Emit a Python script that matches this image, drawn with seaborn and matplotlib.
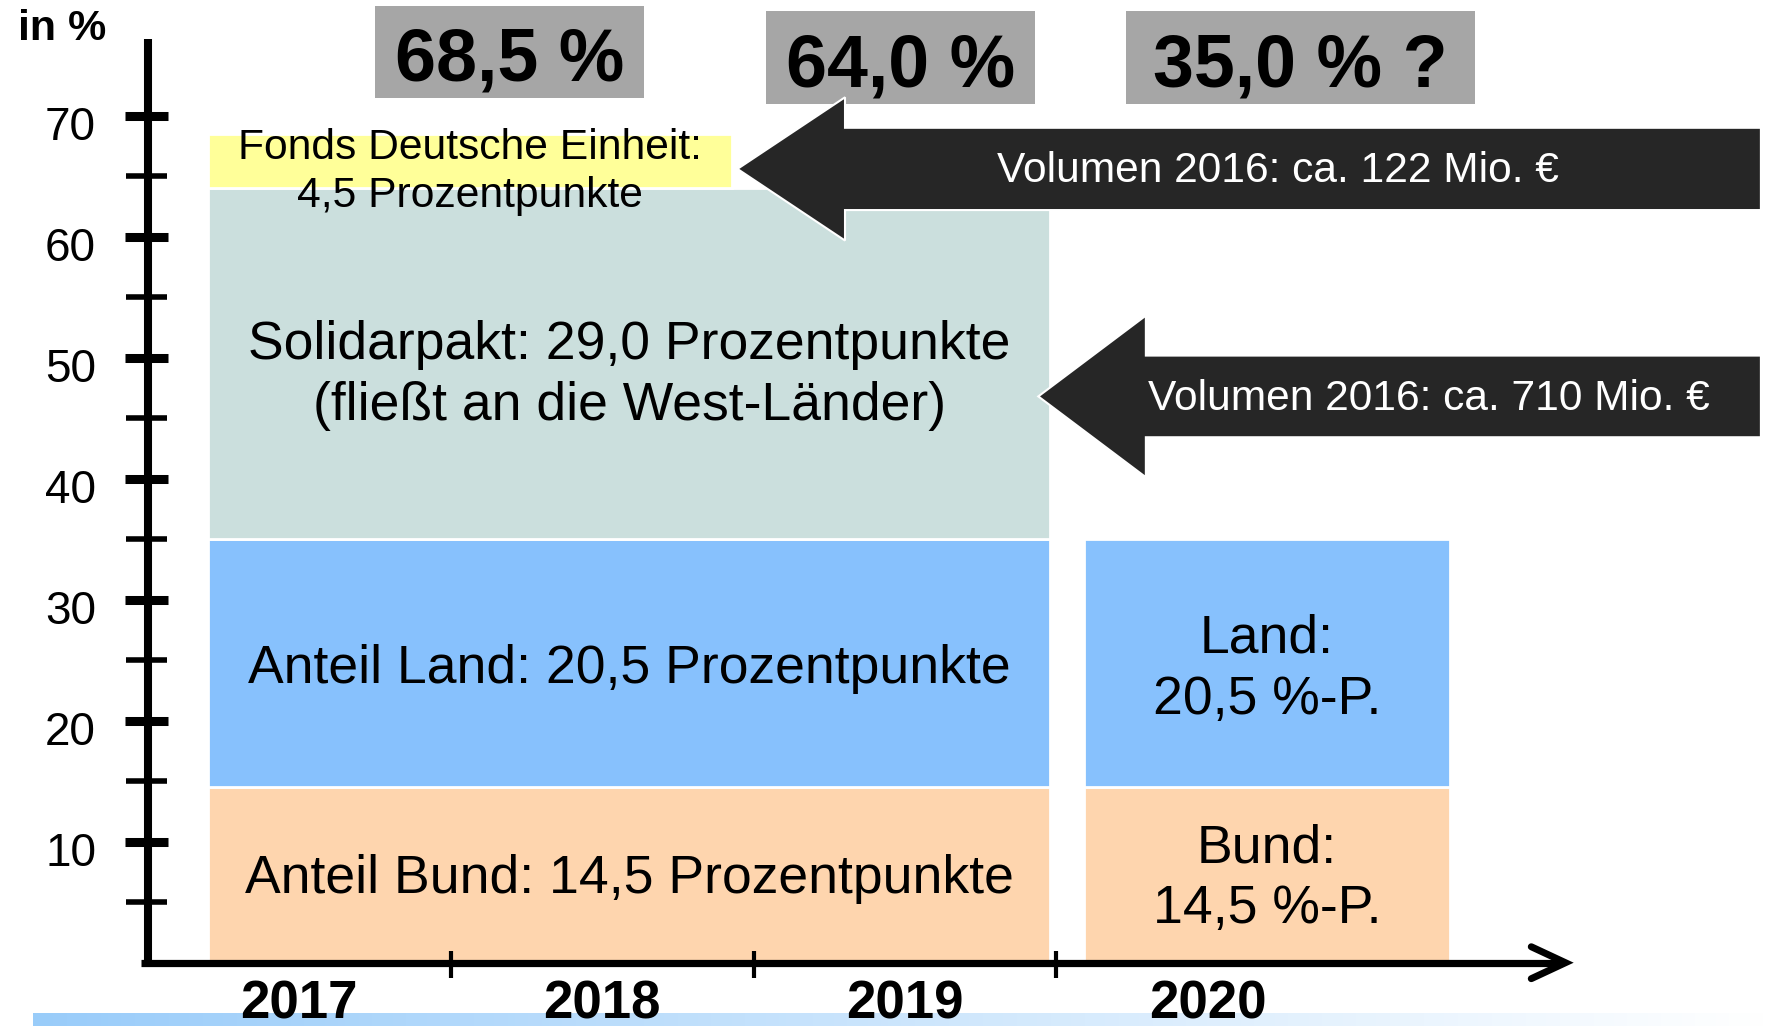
import numpy as np
import matplotlib
matplotlib.use("Agg")
import matplotlib.pyplot as plt
from matplotlib.patches import Rectangle, FancyArrow
import seaborn as sns

# -----------------------------
# Data
# -----------------------------
years = [2017, 2018, 2019, 2020]
segments = ["Anteil Bund", "Anteil Land", "Solidarpakt", "Fonds Deutsche Einheit"]
shares_2017_2019 = [14.5, 20.5, 29.0, 4.5]   # Prozentpunkte
shares_2020 = [14.5, 20.5]
totals = [68.5, 64.0, 35.0]
total_labels = ["68,5 %", "64,0 %", "35,0 % ?"]
volumes_2016 = [122, 710]   # Mio. EUR: Fonds, Solidarpakt
ytick_major = [10, 20, 30, 40, 50, 60, 70]
ytick_minor = [5, 15, 25, 35, 45, 55, 65]

seg_colors = ["#fed5ae", "#87c1fd", "#cbdfdd", "#ffff99"]
seg_labels = [
    "Anteil Bund: 14,5 Prozentpunkte",
    "Anteil Land: 20,5 Prozentpunkte",
    "Solidarpakt: 29,0 Prozentpunkte\n(fließt an die West-Länder)",
    "Fonds Deutsche Einheit:\n4,5 Prozentpunkte",
]
labels_2020 = ["Bund:\n14,5 %-P.", "Land:\n20,5 %-P."]

sns.set_theme(style="white")
plt.rcParams["font.family"] = ["Liberation Sans", "DejaVu Sans"]
plt.rcParams["text.color"] = "black"

fig = plt.figure(figsize=(17.7, 10.26), dpi=100)
ax = fig.add_axes([0, 0, 1, 1])
ax.axis("off")

# -----------------------------
# Stacked blocks
# -----------------------------
left_x0, left_x1 = 2016.70, 2019.48    # 2017-2019
fonds_x1 = 2018.43                     # Fonds only through 2018
right_x0, right_x1 = 2019.59, 2020.80  # 2020
nudge = [-0.3, -0.5, -1.0, -0.9]

bottom = 0.0
for i, (val, col, lab) in enumerate(zip(shares_2017_2019, seg_colors, seg_labels)):
    x1 = fonds_x1 if i == 3 else left_x1
    ax.bar(left_x0, val, width=x1 - left_x0, bottom=bottom, align="edge",
           color=col, edgecolor="white", linewidth=2, zorder=2)
    fs = 30.7 if i == 3 else 38.5
    ax.text((left_x0 + x1) / 2, bottom + val / 2 + nudge[i], lab, ha="center",
            va="center", fontsize=fs, linespacing=1.28, zorder=5)
    bottom += val

bottom = 0.0
for i, (val, col, lab) in enumerate(zip(shares_2020, seg_colors, labels_2020)):
    ax.bar(right_x0, val, width=right_x1 - right_x0, bottom=bottom, align="edge",
           color=col, edgecolor="white", linewidth=2, zorder=2)
    ax.text((right_x0 + right_x1) / 2, bottom + val / 2 + nudge[i], lab,
            ha="center", va="center", fontsize=38.5, linespacing=1.28, zorder=5)
    bottom += val

# -----------------------------
# Total boxes on top
# -----------------------------
box_spans = [(2017.25, 2018.14, 71.46, 79.07), (2018.54, 2019.43, 70.96, 78.65),
             (2019.73, 2020.88, 70.96, 78.65)]
for (bx0, bx1, by0, by1), lab in zip(box_spans, total_labels):
    ax.add_patch(Rectangle((bx0, by0), bx1 - bx0, by1 - by0, facecolor="#a6a6a6",
                           edgecolor="none", zorder=3))
    ax.text((bx0 + bx1) / 2, (by0 + by1) / 2 - 0.75, lab, ha="center",
            va="center", fontsize=53, fontweight="bold", zorder=5)

# -----------------------------
# Volume arrows
# -----------------------------
arrow_specs = [(65.6, 2018.447, 6.8, 11.84), (46.8, 2019.44, 6.75, 13.36)]
text_x = [2020.23, 2020.73]
for (ay, tip, w, hw), vol, tx in zip(arrow_specs, volumes_2016, text_x):
    start = 2021.825
    ax.add_patch(FancyArrow(start, ay, tip - start, 0, width=w, head_width=hw,
                            head_length=0.355, length_includes_head=True,
                            facecolor="#262626", edgecolor="white", linewidth=1.5,
                            zorder=4))
    ax.text(tx, ay - 0.2, f"Volumen 2016: ca. {vol} Mio. €", color="white",
            ha="center", va="center", fontsize=30.6, zorder=5)

# -----------------------------
# Axes drawn by hand
# -----------------------------
ax.plot([2016.50, 2016.50], [0, 76.3], color="black", lw=5.8,
        solid_capstyle="butt", zorder=6)
ax.hlines(ytick_major, 2016.426, 2016.568, color="black", lw=6.5, zorder=6)
ax.hlines(ytick_minor, 2016.43, 2016.564, color="black", lw=4, zorder=6)
for v in ytick_major:
    ax.text(2016.33, v - 1.0, str(v), ha="right", va="center", fontsize=33)
ax.text(2016.218, 77.2, "in %", ha="center", va="center", fontsize=31,
        fontweight="bold")

ax.plot([2016.478, 2021.17], [0, 0], color="black", lw=5.2,
        solid_capstyle="butt", zorder=6)
ax.plot([2021.067, 2021.18, 2021.067], [1.32, 0, -1.32], color="black", lw=5,
        solid_capstyle="round", solid_joinstyle="miter", zorder=6)
ax.vlines([2017.5, 2018.5, 2019.5], -1.26, 0.97, color="black", lw=3, zorder=6)

# gradient strip at the bottom
grad = np.linspace(0, 1, 256)
c0 = np.array([0.60, 0.80, 0.98])
img = c0[None, :] * (1 - grad[:, None]) + np.ones(3)[None, :] * grad[:, None]
ax.imshow(img[None, :, :], extent=(2016.122, 2021.855, -5.23, -4.16),
          aspect="auto", zorder=1)

for yr in years:
    ax.text(yr, -3.45, str(yr), ha="center", va="center", fontsize=38,
            fontweight="bold", zorder=5)

ax.set_xlim(2016.013, 2021.855)
ax.set_ylim(-5.23, 79.56)
fig.savefig("out.png", dpi=100)
